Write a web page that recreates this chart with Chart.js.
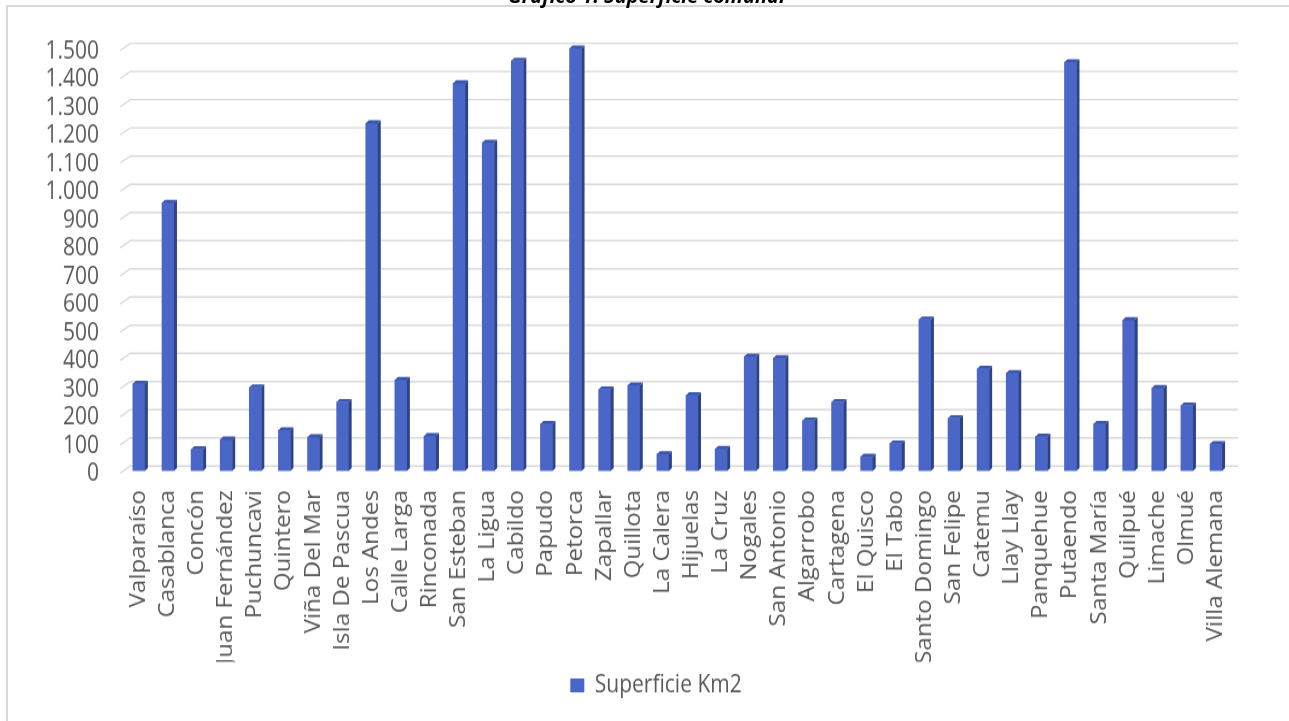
<!DOCTYPE html>
<html>
<head>
<meta charset="utf-8">
<script src="https://cdn.jsdelivr.net/npm/chart.js@4"></script>
<style>
 body { margin: 0; background: #ffffff; overflow: hidden; }
 #contenedor { position: relative; width: 1289px; height: 721px; overflow: hidden; }
 #marco { position: absolute; left: 6px; top: 5px; width: 1400px; height: 800px; border: 2px solid #D9D9D9; }
 #titulo { position: absolute; top: -14px; left: 0; width: 1293px; text-align: center;
   font-family: "Open Sans", sans-serif; font-size: 20px; font-weight: bold; font-style: italic;
   line-height: 20px; color: #000000; }
 /* El grafico original esta estirado en vertical */
 canvas { position: absolute; left: 0; top: 0; transform-origin: 0 0; transform: scaleY(1.15); }
</style>
</head>
<body>
<div id="contenedor">
 <div id="marco"></div>
 <canvas id="canvasSuperficie" width="1289" height="627"></canvas>
 <div id="titulo">Gráfico 1: Superficie comunal</div>
</div>
<script>
//Datos
const comunas = ["Valparaíso", "Casablanca", "Concón", "Juan Fernández", "Puchuncavi", "Quintero",
 "Viña Del Mar", "Isla De Pascua", "Los Andes", "Calle Larga", "Rinconada", "San Esteban", "La Ligua",
 "Cabildo", "Papudo", "Petorca", "Zapallar", "Quillota", "La Calera", "Hijuelas", "La Cruz", "Nogales",
 "San Antonio", "Algarrobo", "Cartagena", "El Quisco", "El Tabo", "Santo Domingo", "San Felipe", "Catemu",
 "Llay Llay", "Panquehue", "Putaendo", "Santa María", "Quilpué", "Limache", "Olmué", "Villa Alemana"];
const superficie = [310, 952, 77, 112, 297, 145, 120, 245, 1234, 323,
 124, 1376, 1165, 1456, 167, 1500, 290, 304, 60, 269,
 79, 406, 401, 179, 245, 51, 98, 538, 188, 363,
 348, 122, 1451, 167, 536, 295, 233, 96];
const nombreSerie = "Superficie Km2";
const ejeMin = 0;
const ejeMax = 1500;
const ejePaso = 100;

//Factor de estiramiento vertical (igual al del CSS)
const estiramiento = 1.15;

//Colores de las caras de la barra
const colorFrente = "#4A67C8";
const colorLado = "#2E4387";
const colorTapa = "#3B56AE";
const colorGrilla = "#D9D9D9";
const colorTexto = "#595959";
const fuente = "'Open Sans', sans-serif";

//Funcion que da formato con punto de miles
function formatoMiles(valor) {
 return String(valor).replace(/\B(?=(\d{3})+(?!\d))/g, ".");
}

//Plugin para la grilla en perspectiva y para centrar la leyenda
const pluginFondo = {
 id: "fondo",
 afterLayout(chart) {
  const leyenda = chart.legend;
  const dx = 656 - (leyenda.left + leyenda.right) / 2;
  leyenda.left += dx;
  leyenda.right += dx;
 },
 beforeDatasetsDraw(chart) {
  const ctx = chart.ctx;
  const area = chart.chartArea;
  const escalaY = chart.scales.y;
  ctx.save();
  ctx.strokeStyle = colorGrilla;
  ctx.lineWidth = 1.4;
  escalaY.ticks.forEach(t => {
   const py = escalaY.getPixelForValue(t.value);
   ctx.beginPath();
   ctx.moveTo(area.left - 4, py + 2 / estiramiento);
   ctx.lineTo(area.left + 6, py - 5 / estiramiento);
   ctx.lineTo(area.right + 7.5, py - 5 / estiramiento);
   ctx.stroke();
  });
  ctx.restore();
 }
};

//Plugin para dibujar el lado y la tapa de cada barra
const pluginBarras3D = {
 id: "barras3d",
 afterDatasetsDraw(chart) {
  const ctx = chart.ctx;
  const meta = chart.getDatasetMeta(0);
  const dx = 3;
  const dy = 3 / estiramiento;
  ctx.save();
  meta.data.forEach(barra => {
   const p = barra.getProps(["x", "y", "base", "width"], true);
   const izq = p.x - p.width / 2;
   const der = p.x + p.width / 2;
   //Lado
   ctx.fillStyle = colorLado;
   ctx.beginPath();
   ctx.moveTo(der, p.y);
   ctx.lineTo(der + dx, p.y - dy);
   ctx.lineTo(der + dx, p.base - dy);
   ctx.lineTo(der, p.base);
   ctx.closePath();
   ctx.fill();
   //Tapa
   ctx.fillStyle = colorTapa;
   ctx.beginPath();
   ctx.moveTo(izq, p.y);
   ctx.lineTo(izq + dx, p.y - dy);
   ctx.lineTo(der + dx, p.y - dy);
   ctx.lineTo(der, p.y);
   ctx.closePath();
   ctx.fill();
  });
  ctx.restore();
 }
};

var canvas = document.getElementById("canvasSuperficie");
let grafico = new Chart(canvas, {
 type: "bar",
 data: {
  labels: comunas,
  datasets: [{
   label: nombreSerie,
   data: superficie,
   backgroundColor: colorFrente,
   borderWidth: 0,
   barThickness: 12
  }]
 },
 options: {
  responsive: false,
  animation: false,
  layout: { padding: { left: 0, right: 58.4, top: 42, bottom: 10.4 } },
  plugins: {
   legend: {
    position: "bottom",
    labels: { boxWidth: 14, boxHeight: 12, padding: 10, color: colorTexto,
     font: { family: fuente, size: 21 } }
   },
   tooltip: { enabled: false }
  },
  scales: {
   x: {
    grid: { display: false, drawTicks: false },
    border: { display: false },
    ticks: { autoSkip: false, minRotation: 90, maxRotation: 90, padding: 16.5, color: colorTexto,
     font: { family: fuente, size: 21 } },
    afterFit(escala) { escala.height = 166; }
   },
   y: {
    min: ejeMin,
    max: ejeMax,
    grid: { display: false, drawTicks: false },
    border: { display: false },
    ticks: { stepSize: ejePaso, autoSkip: false, padding: 25.3, labelOffset: 2.6, color: colorTexto,
     font: { family: fuente, size: 21 },
     callback: valor => formatoMiles(valor) },
    afterFit(escala) { escala.width = 124.3; }
   }
  }
 },
 plugins: [pluginFondo, pluginBarras3D]
});
</script>
</body>
</html>
